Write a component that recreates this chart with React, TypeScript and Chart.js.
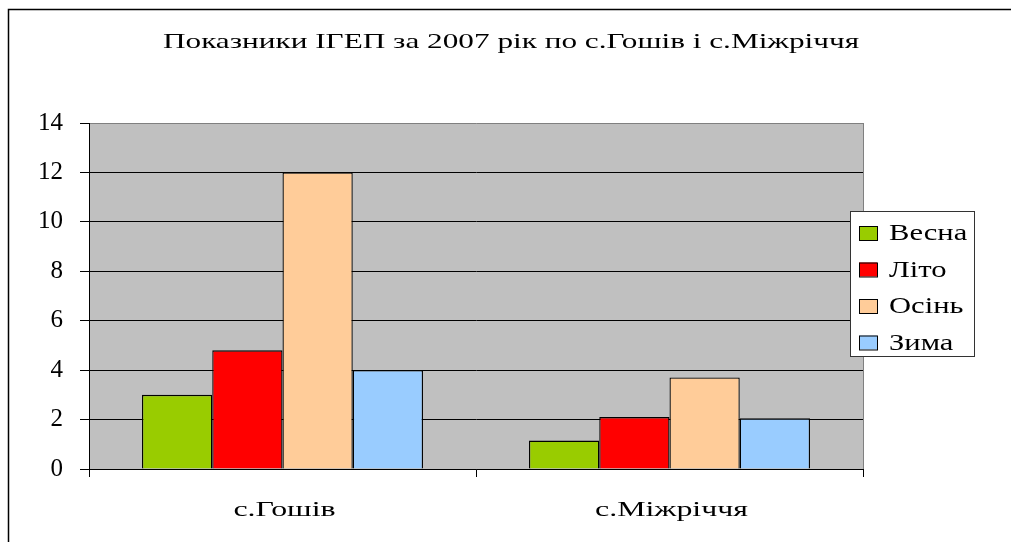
import React, { useEffect, useRef } from "react";
import { Chart, registerables } from "chart.js";

Chart.register(...registerables);

const title = "Показники ІГЕП за 2007 рік по с.Гошів і с.Міжріччя";
const categories = ["с.Гошів", "с.Міжріччя"];
const seriesNames = ["Весна", "Літо", "Осінь", "Зима"];
const vesna = [3, 1.15];
const lito = [4.8, 2.1];
const osin = [12, 3.7];
const zyma = [4, 2.05];
const seriesColors = ["#99CC00", "#FF0000", "#FFCC99", "#99CCFF"];
const yTicksMax = 14;
const yStep = 2;

const FONT = "'Liberation Serif', 'Times New Roman', serif";

function stretchedText(ctx: any, text: string, x: number, y: number, sx: number, align: "left" | "center") {
  ctx.save();
  ctx.translate(x, y);
  ctx.scale(sx, 1);
  ctx.textAlign = align;
  ctx.fillText(text, 0, 0);
  ctx.restore();
}

const framePlugin = {
  id: "framePlugin",
  beforeDraw(chart: any) {
    const { ctx, chartArea } = chart;
    ctx.save();
    ctx.fillStyle = "#fff";
    ctx.fillRect(0, 0, chart.width, chart.height);
    ctx.fillStyle = "#C0C0C0";
    ctx.fillRect(chartArea.left, chartArea.top, chartArea.right - chartArea.left, chartArea.bottom - chartArea.top);
    ctx.restore();
  },
  afterDraw(chart: any) {
    const { ctx, chartArea } = chart;
    ctx.save();
    // outer frame (left and top)
    ctx.strokeStyle = "#000";
    ctx.lineWidth = 1.5;
    ctx.beginPath();
    ctx.moveTo(8.5, chart.height);
    ctx.lineTo(8.5, 9.5);
    ctx.lineTo(chart.width, 9.5);
    ctx.stroke();
    // plot area right border
    ctx.strokeStyle = "#808080";
    ctx.lineWidth = 1;
    ctx.beginPath();
    ctx.moveTo(Math.round(chartArea.right) + 0.5, chartArea.top);
    ctx.lineTo(Math.round(chartArea.right) + 0.5, chartArea.bottom);
    ctx.stroke();

    // title
    ctx.fillStyle = "#000";
    ctx.textBaseline = "middle";
    ctx.font = "22px " + FONT;
    stretchedText(ctx, title, 511, 42, 1.42, "center");

    // category labels
    ctx.font = "22px " + FONT;
    const xs = chart.scales.x;
    chart.data.labels.forEach((lab: string, i: number) => {
      stretchedText(ctx, lab, xs.getPixelForValue(i) + 2, 510, 1.45, "center");
    });

    // legend
    const bx = 850, by = 211, bw = 124, bh = 145;
    ctx.fillStyle = "#fff";
    ctx.fillRect(bx, by, bw, bh);
    ctx.strokeStyle = "#333";
    ctx.lineWidth = 1;
    ctx.strokeRect(bx + 0.5, by + 0.5, bw, bh);
    ctx.font = "23px " + FONT;
    ctx.textBaseline = "middle";
    chart.data.datasets.forEach((ds: any, i: number) => {
      const cy = 233 + i * 36.5;
      ctx.fillStyle = ds.backgroundColor;
      ctx.fillRect(859, cy - 7, 18, 14);
      ctx.strokeStyle = "#000";
      ctx.strokeRect(859.5, cy - 6.5, 18, 14);
      ctx.fillStyle = "#000";
      stretchedText(ctx, ds.label, 889, cy + 1, 1.33, "left");
    });
    ctx.restore();
  },
};

export default function App() {
  const ref = useRef<HTMLCanvasElement>(null);
  useEffect(() => {
    if (!ref.current) return;
    const data = [vesna, lito, osin, zyma];
    const chart = new Chart(ref.current, {
      type: "bar",
      data: {
        labels: categories,
        datasets: seriesNames.map((name, i) => ({
          label: name,
          data: data[i],
          backgroundColor: seriesColors[i],
          borderColor: "#000",
          borderWidth: 1.3,
          categoryPercentage: 0.726,
          barPercentage: 1,
        })),
      },
      options: {
        animation: false,
        responsive: false,
        maintainAspectRatio: false,
        layout: { padding: { left: 0, right: 148, top: 123, bottom: 0 } },
        plugins: {
          legend: { display: false },
          tooltip: { enabled: false },
          title: { display: false },
        },
        scales: {
          x: {
            grid: {
              offset: true,
              drawOnChartArea: false,
              drawTicks: true,
              tickLength: 8,
              tickColor: "#000",
            },
            border: { display: true, color: "#000", width: 1 },
            ticks: { display: false },
            afterFit: (s: any) => { s.height = 73; },
          },
          y: {
            min: 0,
            max: yTicksMax,
            ticks: { stepSize: yStep, color: "#000", font: { family: FONT, size: 25 }, padding: 17 },
            grid: {
              color: (c: any) => (c.tick && c.tick.value === yTicksMax ? "#808080" : "#000"),
              tickColor: "#000",
              tickLength: 9,
              lineWidth: 1,
            },
            border: { display: true, color: "#000", width: 1 },
            afterFit: (s: any) => { s.width = 89; },
          },
        },
      },
      plugins: [framePlugin],
    });
    return () => chart.destroy();
  }, []);
  return (
    <div style={{ position: "fixed", left: 0, top: 0, width: 1011, height: 542 }}>
      <canvas ref={ref} width={1011} height={542} style={{ width: 1011, height: 542 }} />
    </div>
  );
}
